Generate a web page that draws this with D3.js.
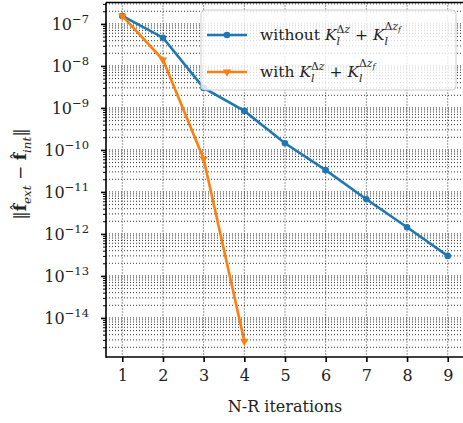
<!DOCTYPE html>
<html lang="en">
<head>
  <meta charset="UTF-8">
  <script src="https://d3js.org/d3.v7.min.js"></script>
  <style>
    body { margin: 0; background: white; }
    text { font-family: "DejaVu Serif", "Liberation Serif", serif; fill: #222; white-space: pre; }
  </style>
</head>
<body>
  <svg id="chart" width="463" height="423"></svg>
  <script>
    // data
    const iterations = [1, 2, 3, 4, 5, 6, 7, 8, 9];
    const withoutVals = [1.55e-7, 4.7e-8, 3.0e-9, 8.5e-10, 1.44e-10, 3.3e-11, 6.7e-12, 1.44e-12, 3.0e-13];
    const withIters = [1, 2, 3, 4];
    const withVals = [1.55e-7, 1.4e-8, 6.1e-11, 2.8e-15];
    const xTicks = [1, 2, 3, 4, 5, 6, 7, 8, 9];
    const yExponents = [-14, -13, -12, -11, -10, -9, -8, -7];

    const blue = "#1f77b4", orange = "#ff7f0e";
    const plotLeft = 106, plotRight = 464, plotTop = 2.5, plotBottom = 357;

    const svg = d3.select("#chart");

    const x = d3.scaleLinear().domain([0.6, 9.4]).range([plotLeft, plotRight]);
    const y = d3.scaleLog().domain([Math.pow(10, -14.93), Math.pow(10, -6.49)]).range([plotBottom, plotTop]);

    // minor values 2..9 per decade inside domain
    let minorVals = [];
    for (let e = -16; e <= -6; e++) {
      for (let m = 2; m <= 9; m++) {
        let v = m * Math.pow(10, e);
        if (v >= y.domain()[0] && v <= y.domain()[1]) minorVals.push(v);
      }
    }
    const majorVals = yExponents.map(e => Math.pow(10, e));

    // grid
    const grid = svg.append("g");
    grid.selectAll(".hminor").data(minorVals).enter().append("line")
      .attr("x1", plotLeft).attr("x2", plotRight)
      .attr("y1", d => y(d)).attr("y2", d => y(d))
      .attr("stroke", "#000").attr("stroke-width", 0.8).attr("stroke-dasharray", "1,2");
    grid.selectAll(".hmajor").data(majorVals).enter().append("line")
      .attr("x1", plotLeft).attr("x2", plotRight)
      .attr("y1", d => y(d)).attr("y2", d => y(d))
      .attr("stroke", "#000").attr("stroke-width", 0.8).attr("stroke-dasharray", "1,2");
    grid.selectAll(".vmajor").data(xTicks).enter().append("line")
      .attr("x1", d => x(d)).attr("x2", d => x(d))
      .attr("y1", plotTop).attr("y2", plotBottom)
      .attr("stroke", "#000").attr("stroke-width", 0.8).attr("stroke-dasharray", "1,2");

    // lines
    const lineWithout = d3.line().x((d, i) => x(iterations[i])).y(d => y(d));
    const lineWith = d3.line().x((d, i) => x(withIters[i])).y(d => y(d));

    svg.append("path").datum(withoutVals).attr("d", lineWithout)
      .attr("fill", "none").attr("stroke", blue).attr("stroke-width", 2.6);
    svg.selectAll(".dotB").data(withoutVals).enter().append("circle")
      .attr("cx", (d, i) => x(iterations[i])).attr("cy", d => y(d)).attr("r", 3.3).attr("fill", blue);

    svg.append("path").datum(withVals).attr("d", lineWith)
      .attr("fill", "none").attr("stroke", orange).attr("stroke-width", 2.6);
    const tri = d3.symbol().type(d3.symbolTriangle).size(30);
    svg.selectAll(".triO").data(withVals).enter().append("path")
      .attr("d", tri)
      .attr("transform", (d, i) => "translate(" + x(withIters[i]) + "," + y(d) + ") rotate(180)")
      .attr("fill", orange);

    // axes
    const xAxis = svg.append("g")
      .attr("transform", "translate(0," + plotBottom + ")")
      .call(d3.axisBottom(x).tickValues(xTicks).tickSize(5).tickPadding(8).tickFormat(d3.format("d")));
    xAxis.select(".domain").remove();
    xAxis.selectAll("line").attr("stroke", "#000").attr("stroke-width", 1.6);
    xAxis.selectAll("text").style("font-size", "16px").attr("fill", "#222");

    const yAxis = svg.append("g")
      .attr("transform", "translate(" + plotLeft + ",0)")
      .call(d3.axisLeft(y).tickValues(majorVals).tickSize(5).tickFormat(""));
    yAxis.select(".domain").remove();
    yAxis.selectAll("line").attr("stroke", "#000").attr("stroke-width", 1.6);

    const yMinor = svg.append("g")
      .attr("transform", "translate(" + plotLeft + ",0)")
      .call(d3.axisLeft(y).tickValues(minorVals).tickSize(3).tickFormat(""));
    yMinor.select(".domain").remove();
    yMinor.selectAll("line").attr("stroke", "#000").attr("stroke-width", 1);

    // y tick labels 10^e
    yExponents.forEach(e => {
      const t = svg.append("text")
        .attr("x", 89).attr("y", y(Math.pow(10, e)) + 6)
        .attr("text-anchor", "end");
      t.append("tspan").style("font-size", "16px").text("10");
      t.append("tspan").style("font-size", "11.5px").attr("dy", -7).text("\u2212" + (-e));
    });

    // spines
    svg.append("line").attr("x1", plotLeft).attr("x2", plotLeft).attr("y1", plotTop).attr("y2", plotBottom + 0.8)
      .attr("stroke", "#000").attr("stroke-width", 1.6);
    svg.append("line").attr("x1", plotLeft).attr("x2", plotRight).attr("y1", plotBottom).attr("y2", plotBottom)
      .attr("stroke", "#000").attr("stroke-width", 1.6);
    svg.append("line").attr("x1", plotLeft).attr("x2", plotRight).attr("y1", plotTop).attr("y2", plotTop)
      .attr("stroke", "#000").attr("stroke-width", 1.6);

    // helper to write simple math with sub/sup
    function mathText(g, x0, y0, base, parts) {
      let cx = x0, lastStart = x0, lastEnd = x0;
      parts.forEach(p => {
        const sc = p.s || 1;
        let startX = p.stack ? lastStart + (p.dx || 0) * base : cx;
        const t = g.append("text")
          .attr("x", startX).attr("y", y0 + (p.dy || 0) * base)
          .style("font-size", (base * sc) + "px")
          .style("font-style", p.it ? "italic" : "normal")
          .style("font-weight", p.b ? "bold" : "normal")
          .text(p.t);
        const w = t.node().getComputedTextLength();
        if (p.stack) {
          cx = p.keep ? lastEnd : Math.max(lastEnd, startX + w);
          startX = lastStart;
        } else {
          lastStart = startX;
          cx = startX + w;
        }
        lastEnd = cx;
        if (p.keep) { lastStart = startX; }
      });
      return cx;
    }

    // legend
    const leg = svg.append("g");
    leg.append("rect").attr("x", 201).attr("y", 10).attr("width", 255).attr("height", 80).attr("rx", 4)
      .attr("fill", "white").attr("fill-opacity", 0.8).attr("stroke", "#cccccc").attr("stroke-width", 1);
    leg.append("line").attr("x1", 207).attr("x2", 247).attr("y1", 35).attr("y2", 35)
      .attr("stroke", blue).attr("stroke-width", 2.6);
    leg.append("circle").attr("cx", 227).attr("cy", 35).attr("r", 3.3).attr("fill", blue);
    leg.append("line").attr("x1", 207).attr("x2", 247).attr("y1", 72).attr("y2", 72)
      .attr("stroke", orange).attr("stroke-width", 2.6);
    leg.append("path").attr("d", tri).attr("transform", "translate(227,72) rotate(180)").attr("fill", orange);

    function kTerm(label) {
      return [
        { t: label },
        { t: "K", it: true },
        { t: "l", it: true, s: 0.7, dy: 0.3 },
        { t: "\u0394", s: 0.7, dy: -0.45, stack: true },
        { t: "z", it: true, s: 0.7, dy: -0.45 },
        { t: " + " },
        { t: "K", it: true },
        { t: "l", it: true, s: 0.7, dy: 0.3 },
        { t: "\u0394", s: 0.7, dy: -0.65, stack: true },
        { t: "z", it: true, s: 0.7, dy: -0.65 },
        { t: "f", it: true, s: 0.5, dy: -0.5 }
      ];
    }
    mathText(leg, 260, 40, 15.5, kTerm("without "));
    mathText(leg, 260, 77, 15.5, kTerm("with "));

    // x label
    svg.append("text").attr("x", 285).attr("y", 412).attr("text-anchor", "middle")
      .style("font-size", "16px").text("N-R iterations");

    // y label (rotated), centred on y ~ 174
    const yl = svg.append("g");
    const ylEnd = mathText(yl, 0, 0, 17, [
      { t: "\u2016" },
      { t: "f", b: true },
      { t: "\u02c6", s: 0.9, dy: -0.22, dx: 0.0, stack: true, keep: true },
      { t: "ext", it: true, s: 0.7, dy: 0.3 },
      { t: " \u2212 " },
      { t: "f", b: true },
      { t: "\u02c6", s: 0.9, dy: -0.22, dx: 0.0, stack: true, keep: true },
      { t: "int", it: true, s: 0.7, dy: 0.3 },
      { t: "\u2016" }
    ]);
    yl.attr("transform", "translate(26," + (174 + ylEnd / 2) + ") rotate(-90)");
  </script>
</body>
</html>
